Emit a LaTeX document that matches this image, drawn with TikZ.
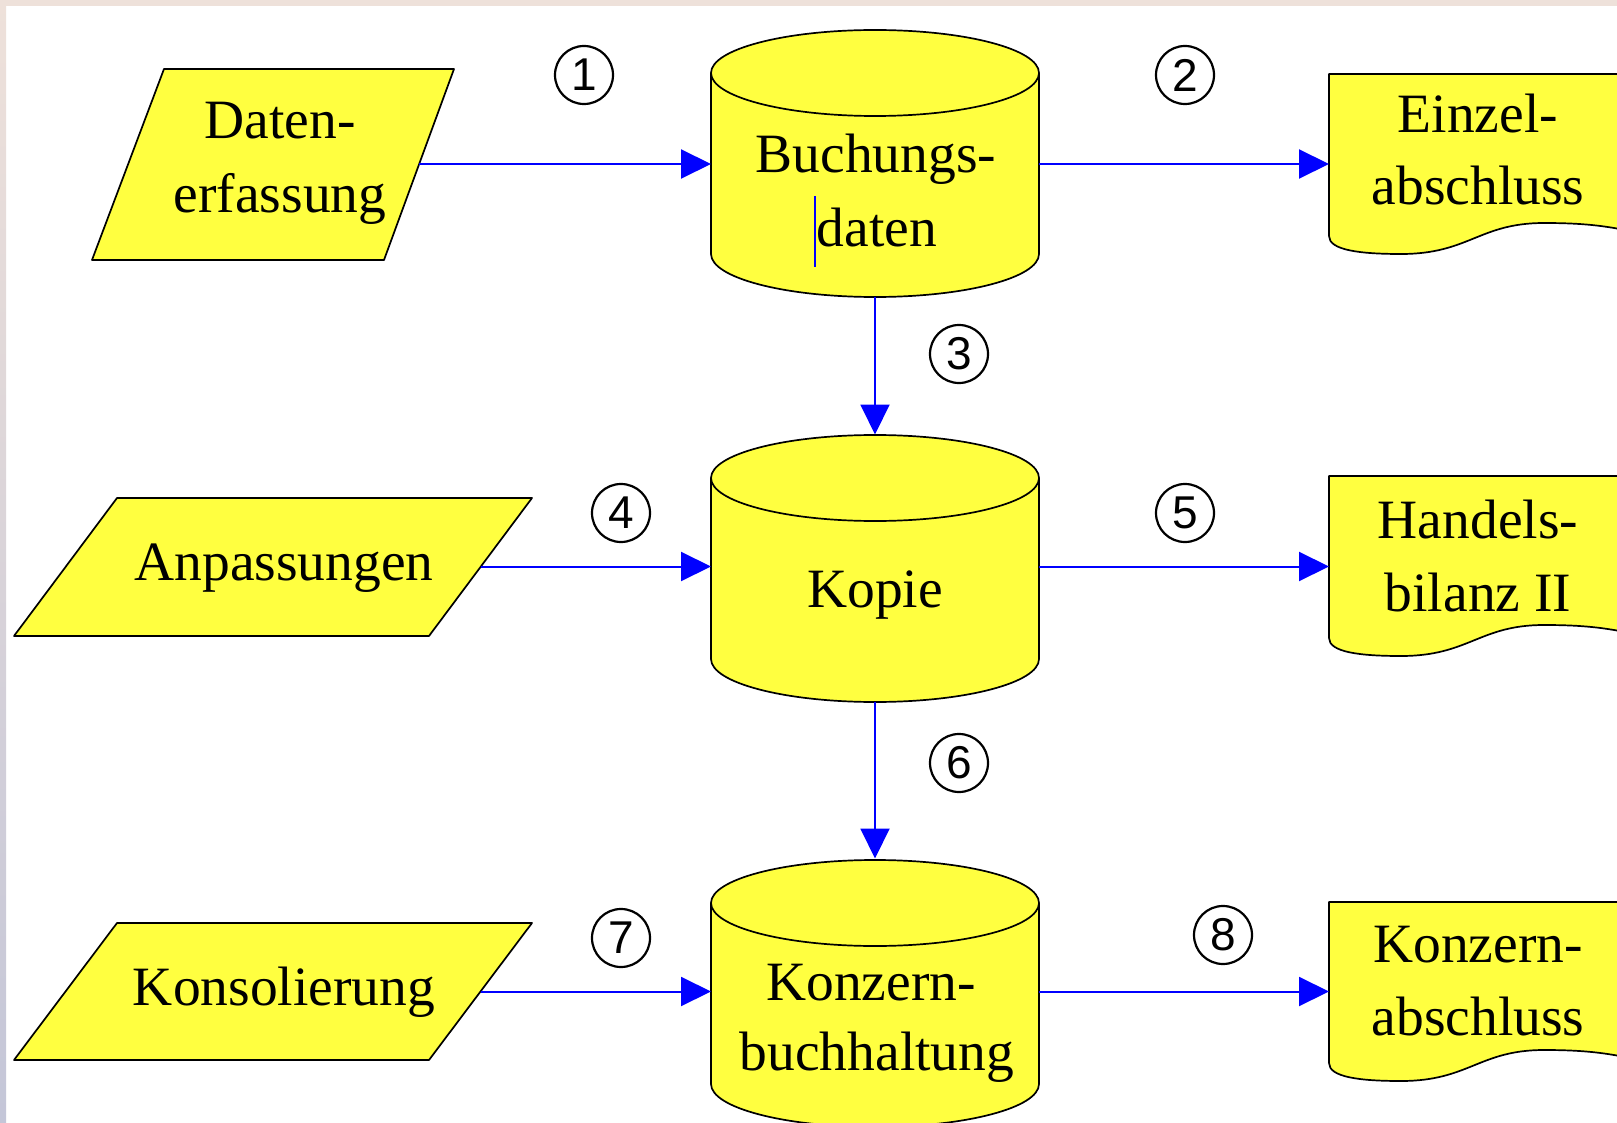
\documentclass[tikz,border=0pt]{standalone}
\usepackage{fontspec}
\setmainfont{Liberation Serif}
\newfontfamily\numfont{Liberation Sans}
\usetikzlibrary{arrows.meta}
\definecolor{fillyel}{RGB}{255,255,64}
\definecolor{arrblue}{RGB}{0,0,255}
\definecolor{frametop}{RGB}{238,225,218}
\definecolor{framebot}{RGB}{196,198,216}
\begin{document}
\begin{tikzpicture}[x=1pt,y=-1pt,
  shapeline/.style={draw=black, line width=1.7pt, fill=fillyel, line join=round},
  txt/.style={font=\fontsize{55.5}{72}\selectfont, anchor=base, inner sep=0pt},
  num/.style={circle, draw=black, line width=2.2pt, minimum size=58pt, inner sep=0pt, font=\numfont\fontsize{46}{46}\selectfont},
  flow/.style={draw=arrblue, line width=2pt, -{Triangle[length=30pt,width=29pt,fill=arrblue]}},
  hook/.style={inner sep=0pt, outer sep=0pt, minimum width=328pt, minimum height=267pt}]
\useasboundingbox (0,0) rectangle (1617,1123);
\fill[white] (0,0) rectangle (1617,1123);
\shade[top color=frametop, bottom color=framebot] (0,0) rectangle (6,1123);
\fill[frametop] (0,0) rectangle (1617,6);

% input parallelograms
\draw[shapeline] (164,69) -- (454,69) -- (384,260) -- (92,260) -- cycle;
\coordinate (p1) at (419,164);
\draw[shapeline] (117,498) -- (532,498) -- (429,636) -- (14,636) -- cycle;
\coordinate (p2) at (480.5,566.5);
\draw[shapeline] (117,923) -- (532,923) -- (429,1060) -- (14,1060) -- cycle;
\coordinate (p3) at (480.5,991.5);

\node[txt] (t1a) at (280,139) {Daten-};
\node[txt] (t1b) at (280,213) {erfassung};
\node[txt] (t2) at (284,580) {Anpassungen};
\node[txt] (t3) at (284,1005) {Konsolierung};

% cylinders
\foreach \cy in {73,478,903}{
  \filldraw[shapeline] (875,\cy+181) ellipse [x radius=164, y radius=43];
  \fill[fillyel] (711,\cy) rectangle (1039,\cy+181);
  \draw[line width=1.7pt] (711,\cy) -- (711,\cy+181) (1039,\cy) -- (1039,\cy+181);
  \filldraw[shapeline] (875,\cy) ellipse [x radius=164, y radius=43];
}
\node[hook] (buch) at (875,163.5) {};
\node[hook] (kopie) at (875,568) {};
\node[hook] (kbuch) at (875,992) {};

\node[txt] (c1a) at (876,173) {Buchungs-};
\node[txt] (c1b) at (877,247) {daten};
\node[txt] (c2) at (875,607) {Kopie};
\node[txt] (c3a) at (871,1000) {Konzern-};
\node[txt] (c3b) at (877,1070) {buchhaltung};
\draw[arrblue, line width=2pt] (815,196) -- (815,267);

% documents
\foreach \ty/\by in {74/238, 476/640, 902/1065}{
  \draw[shapeline] (1329,\ty) -- (1329,\by-2)
    .. controls (1329,\by+12) and (1359,\by+16) .. (1401,\by+16)
    .. controls (1469,\by+16) and (1479,\by-15) .. (1544,\by-15)
    .. controls (1584,\by-15) and (1604,\by-12) .. (1625,\by-8)
    -- (1625,\ty) -- cycle;
}
\coordinate (d1) at (1329,164);
\coordinate (d2) at (1329,566.5);
\coordinate (d3) at (1329,991.5);
\node[txt] (e1a) at (1478,133) {Einzel-};
\node[txt] (e1b) at (1478,205) {abschluss};
\node[txt] (e2a) at (1478,538) {Handels-};
\node[txt] (e2b) at (1478,611) {bilanz II};
\node[txt] (e3a) at (1478,962) {Konzern-};
\node[txt] (e3b) at (1478,1035) {abschluss};

% connectors
\draw[flow] (p1) -- (p1 -| buch.west);
\draw[flow] (buch.east |- d1) -- (d1);
\draw[flow] (buch.south) -- (kopie.north);
\draw[flow] (p2) -- (p2 -| kopie.west);
\draw[flow] (kopie.east |- d2) -- (d2);
\draw[flow] (kopie.south) -- (kbuch.north);
\draw[flow] (p3) -- (p3 -| kbuch.west);
\draw[flow] (kbuch.east |- d3) -- (d3);

% step numbers
\node[num] (n1) at (584,75) {1};
\node[num] (n2) at (1185,75) {2};
\node[num] (n3) at (959,354) {3};
\node[num] (n4) at (621,513) {4};
\node[num] (n5) at (1185,513) {5};
\node[num] (n6) at (959,763) {6};
\node[num] (n7) at (621,938) {7};
\node[num] (n8) at (1223,935) {8};
\end{tikzpicture}
\end{document}
